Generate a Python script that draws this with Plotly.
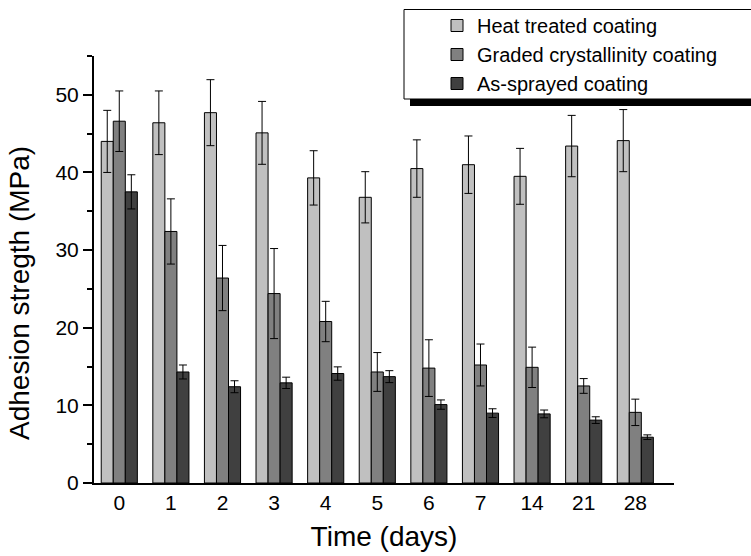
import plotly.graph_objects as go

days = ["0", "1", "2", "3", "4", "5", "6", "7", "14", "21", "28"]

heat = [44.0, 46.4, 47.7, 45.1, 39.3, 36.8, 40.5, 41.0, 39.5, 43.4, 44.1]
heat_err = [4.0, 4.1, 4.25, 4.05, 3.5, 3.3, 3.7, 3.7, 3.6, 3.95, 4.0]

graded = [46.6, 32.4, 26.4, 24.4, 20.8, 14.3, 14.8, 15.2, 14.9, 12.5, 9.1]
graded_err = [3.9, 4.2, 4.2, 5.8, 2.6, 2.5, 3.65, 2.7, 2.6, 0.95, 1.7]

sprayed = [37.5, 14.3, 12.4, 12.9, 14.1, 13.7, 10.1, 9.0, 8.9, 8.1, 5.9]
sprayed_err = [2.2, 0.9, 0.77, 0.73, 0.86, 0.77, 0.6, 0.56, 0.5, 0.43, 0.3]

names = ["Heat treated coating", "Graded crystallinity coating", "As-sprayed coating"]
colors = ["#c0c0c0", "#808080", "#404040"]

FONT = "Liberation Sans, Arial, sans-serif"

fig = go.Figure()
for name, vals, errs, col in zip(names, [heat, graded, sprayed],
                                 [heat_err, graded_err, sprayed_err], colors):
    fig.add_trace(go.Bar(
        x=days, y=vals, name=name,
        marker=dict(color=col, line=dict(color="black", width=1)),
        error_y=dict(type="data", array=errs, visible=True,
                     color="black", thickness=1, width=4),
    ))

W, H = 751, 556
ml, mr, mt, mb = 94, 77, 56, 73
pw, ph = W - ml - mr, H - mt - mb

def px(x):
    return (x - ml) / pw

def py(y):
    return (H - mb - y) / ph

fig.update_layout(
    width=W, height=H,
    margin=dict(l=ml, r=mr, t=mt, b=mb, autoexpand=False),
    paper_bgcolor="white", plot_bgcolor="white",
    barmode="group", bargap=0.30, bargroupgap=0,
    font=dict(family=FONT, color="black"),
    showlegend=True,
    legend=dict(
        x=px(437), y=py(6), xanchor="left", yanchor="top",
        bgcolor="rgba(0,0,0,0)", borderwidth=0,
        font=dict(size=20, family=FONT, color="black"),
        tracegroupgap=0,
    ),
    xaxis=dict(
        type="category",
        range=[-0.49, 10.75],
        showline=True, linecolor="black", linewidth=2,
        ticks="", showgrid=False, zeroline=False,
        tickfont=dict(size=21, family=FONT, color="black"),
        title=dict(text="Time (days)", font=dict(size=28, family=FONT, color="black"), standoff=13),
    ),
    yaxis=dict(
        range=[0, 55],
        tickvals=[0, 10, 20, 30, 40, 50],
        showline=True, linecolor="black", linewidth=2,
        ticks="outside", ticklen=9, tickwidth=1.5, tickcolor="black",
        minor=dict(dtick=5, tick0=0, ticks="outside", ticklen=5, tickwidth=1.5, tickcolor="black"),
        showgrid=False, zeroline=False,
        tickfont=dict(size=21, family=FONT, color="black"),
    ),
    shapes=[
        dict(type="rect", xref="paper", yref="paper",
             x0=px(410), x1=px(770), y0=py(106), y1=py(99),
             fillcolor="black", line=dict(width=0), layer="above"),
        dict(type="rect", xref="paper", yref="paper",
             x0=px(404), x1=px(770), y0=py(99), y1=py(9.5),
             fillcolor="rgba(0,0,0,0)", line=dict(color="black", width=1), layer="above"),
    ],
    annotations=[
        dict(text="Adhesion stregth (MPa)", xref="paper", yref="paper",
             x=px(19), y=py(293), xanchor="center", yanchor="middle",
             textangle=-90, showarrow=False,
             font=dict(size=28, family=FONT, color="black")),
    ],
)

fig.write_html("out.html", config={"displayModeBar": False},
               post_script="document.body.style.margin='0px';")
